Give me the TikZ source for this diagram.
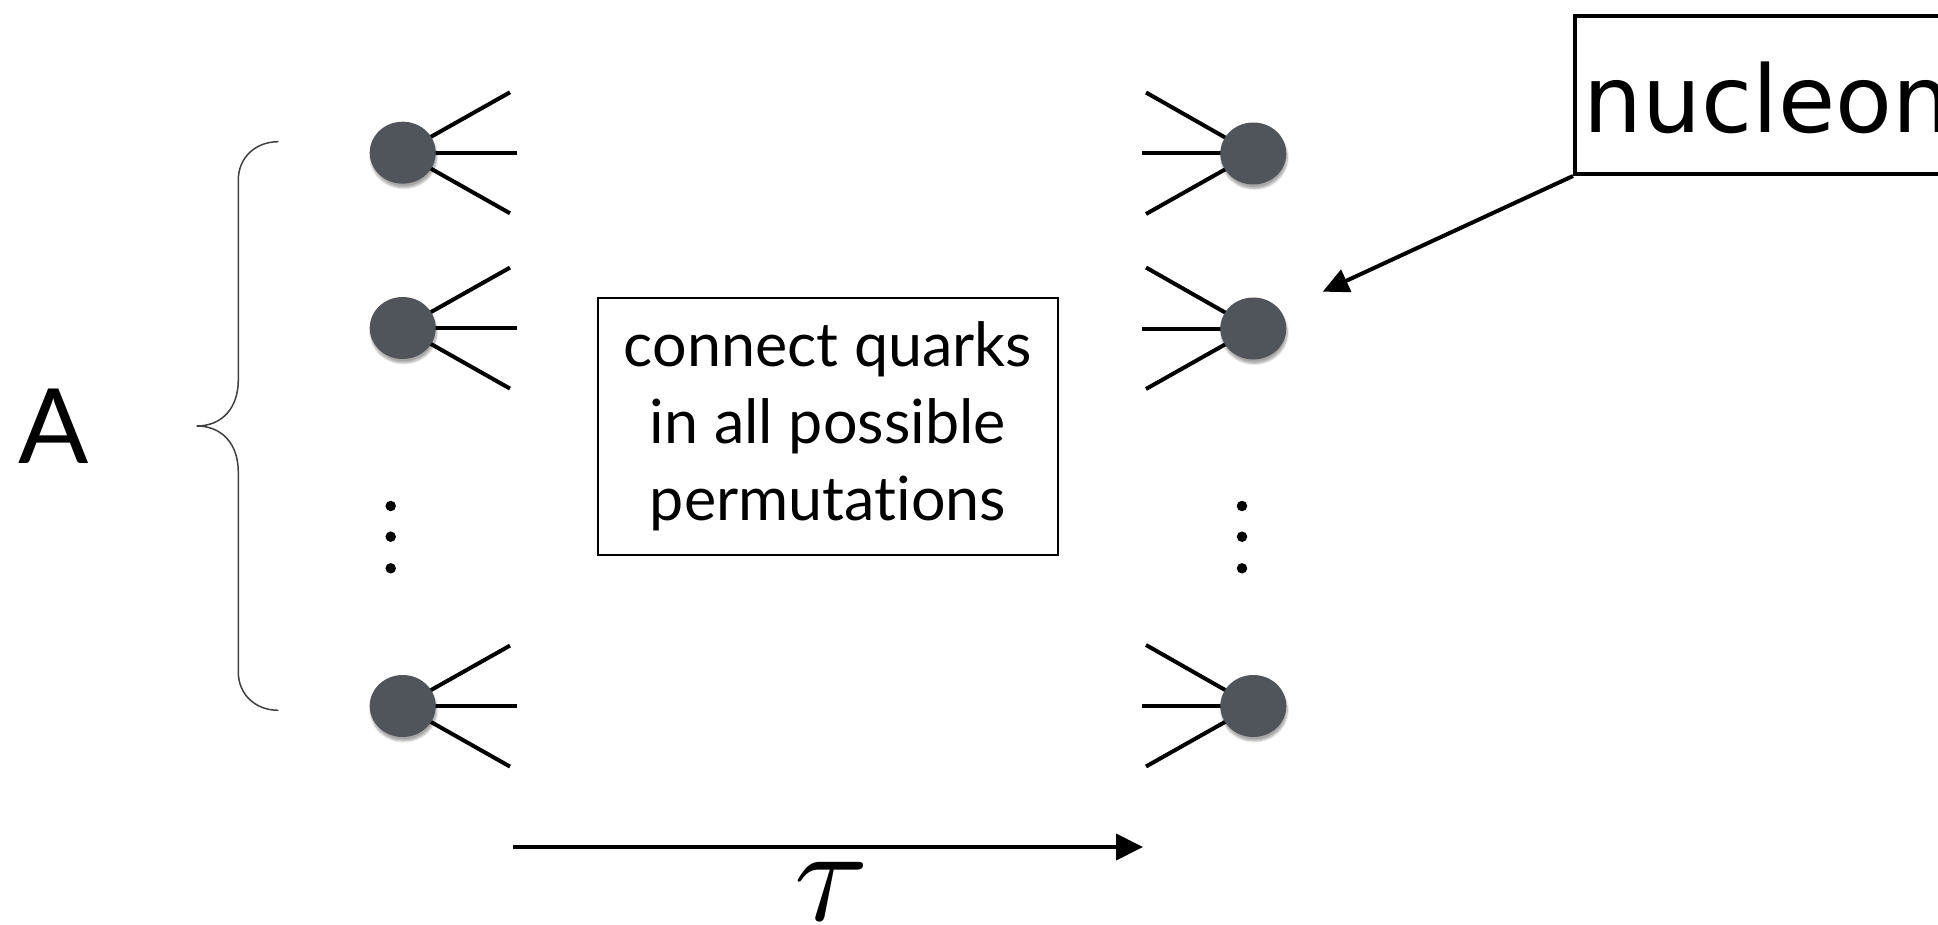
\documentclass[tikz,border=0pt]{standalone}
\usepackage{graphicx}
\usepackage{fontspec}
\setmainfont{Lato}[Ligatures={NoCommon,NoContextual,NoRequired}]
\newfontfamily\labelfont{DejaVu Sans}
\usetikzlibrary{shapes.geometric,arrows.meta,backgrounds,shadows.blur}
\definecolor{blobgray}{RGB}{80,85,92}
\begin{document}
\begin{tikzpicture}[x=1pt,y=-1pt,
  quark/.style={line width=4pt},
  blob/.style={ellipse, fill=blobgray, minimum width=66pt, minimum height=62pt,
    inner sep=0pt, blur shadow={shadow xshift=1pt, shadow yshift=-4pt,
    shadow opacity=35, shadow blur steps=6}},
  vdot/.style={circle, fill=black, minimum size=10.5pt, inner sep=0pt},
  thickarrow/.style={line width=4pt, -{Triangle[length=27pt,width=26pt]}},
  permbox/.style={draw, line width=2pt, minimum width=460pt, minimum height=257pt,
    align=center, font=\fontsize{61}{77}\selectfont},
]
\useasboundingbox (0,0) rectangle (1938,925);
\clip (0,0) rectangle (1938,925);

% incoming nucleons (left) and outgoing nucleons (right)
\node[blob] (L1) at (402.7,152.7) {};
\node[blob] (L2) at (402.7,328) {};
\node[blob] (L3) at (402.7,706) {};
\node[blob] (R1) at (1253.3,153.5) {};
\node[blob] (R2) at (1253.3,328.5) {};
\node[blob] (R3) at (1253.3,706) {};

% three quark lines per nucleon, kept under the blobs
\begin{pgfonlayer}{background}
  \foreach \n in {L1,L2,L3}{
    \draw[quark] (\n.center) -- ++(107.3,-60.4);
    \draw[quark] (\n.center) -- ++(114,0);
    \draw[quark] (\n.center) -- ++(107.3,60.6);
  }
  \foreach \n in {R1,R2,R3}{
    \draw[quark] (\n.center) -- ++(-107.3,-61);
    \draw[quark] (\n.center) -- ++(-111.6,0);
    \draw[quark] (\n.center) -- ++(-107.3,60.5);
  }
\end{pgfonlayer}

% vertical ellipses
\foreach \y [count=\i] in {506,536.7,568.3}{
  \node[vdot] (dl\i) at (390.7,\y) {};
  \node[vdot] (dr\i) at (1242,\y) {};
}

% brace and nucleon count
\draw[line width=1.5pt, black!75]
  (278.3,141.7) .. controls (255,141.7) and (238.3,158) .. (238.3,180)
  -- (238.3,380) .. controls (238.3,408) and (222,426) .. (196.7,426)
  .. controls (222,426) and (238.3,444) .. (238.3,472)
  -- (238.3,672) .. controls (238.3,694) and (255,710.3) .. (278.3,710.3);
\node[font=\fontsize{104}{110}\selectfont, anchor=base, inner sep=0pt] (A) at (54,463.3) {A};

% contraction box
\node[permbox] (perm) at (828,426.5) {connect quarks\\in all possible\\permutations};

% nucleon label
\node[draw, line width=4pt, anchor=north west, minimum width=500pt,
  minimum height=158pt, inner sep=0pt] (nucbox) at (1573,14) {};
\node[font=\labelfont\fontsize{93}{100}\selectfont, anchor=base west, inner sep=0pt]
  (nuctext) at (1583,133) {nucleon};
\coordinate (ntip) at (1322.7,291.7);
\draw[line width=4pt, -{Triangle[length=26pt,width=24pt]}] (nucbox.south west) -- (ntip);

% Euclidean time axis
\coordinate (t0) at (513,847);
\coordinate (t1) at (1143,847);
\draw[thickarrow] (t0) -- (t1);
\node[inner sep=0pt] (tau) at (832,891) {\scalebox{13.5}{$\tau$}};
\end{tikzpicture}
\end{document}
